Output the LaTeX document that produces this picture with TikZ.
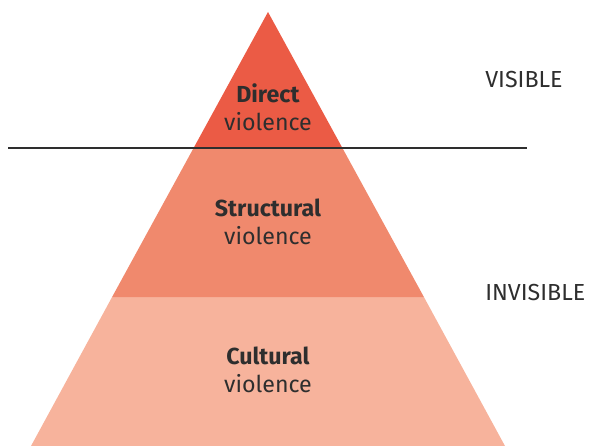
\documentclass[tikz,border=0pt]{standalone}
\usepackage{fontspec}
\setmainfont{Fira Sans}
\usetikzlibrary{positioning}
\definecolor{directred}{HTML}{EB5B45}
\definecolor{structred}{HTML}{F0896D}
\definecolor{cultred}{HTML}{F7B39C}
\definecolor{textgray}{HTML}{2E2E2E}

\begin{document}
\begin{tikzpicture}[x=0.025cm,y=-0.025cm]
                    \tikzstyle{every node}=[font=\fontsize{16.5}{20}\selectfont, text=textgray]
                    \tikzstyle{level} = [align=center, inner sep=0pt]
                    \tikzstyle{side} = [anchor=west, inner sep=0pt]
                    \tikzstyle{divider} = [draw=textgray, line width=1.7pt]

                    \useasboundingbox (0,0) rectangle (592,446);

                    % % the three bands
                    \fill[cultred] (112.1,297) -- (423.9,297) -- (505,446) -- (31,446) -- cycle;
                    \fill[structred] (193.6,148) -- (342.4,148) -- (423.9,297) -- (112.1,297) -- cycle;
                    \fill[directred] (268,12) -- (342.4,148) -- (193.6,148) -- cycle;

                    \node[level](direct) at (268,107) {\textbf{Direct}\\violence};
                    \node[level](structural) at (268,221.5) {\textbf{Structural}\\violence};
                    \node[level](cultural) at (268,370) {\textbf{Cultural}\\violence};

                    \node[side](visible) at (485,80) {VISIBLE};
                    \node[side](invisible) at (485,293) {INVISIBLE};

                    % % the waterline
                    \coordinate (w1) at (8,148);
                    \coordinate (w2) at (527,148);
                    \draw[divider] (w1) -- (w2);

\end{tikzpicture}
\end{document}
